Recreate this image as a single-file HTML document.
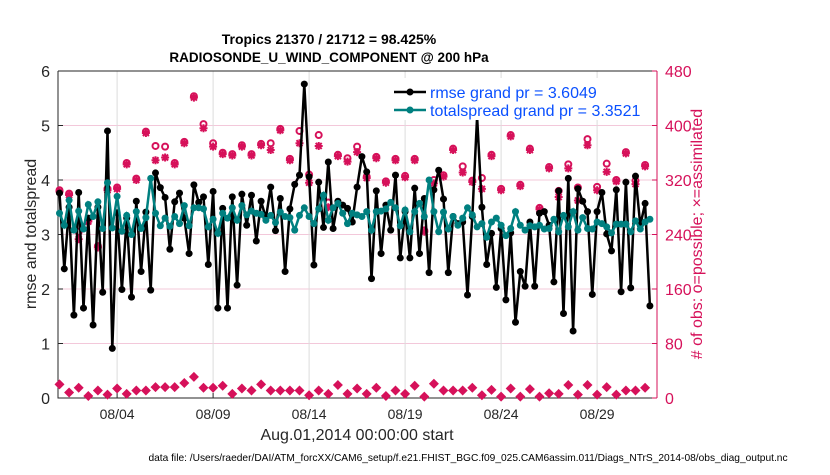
<!DOCTYPE html>
<html><head><meta charset="utf-8"><style>
body{margin:0;background:#fff;width:830px;height:470px;overflow:hidden;font-family:"Liberation Sans",sans-serif}
</style></head><body>
<svg id="c" width="830" height="470" xmlns="http://www.w3.org/2000/svg"></svg>
<script>
const rmse=[3.76,2.37,3.5,1.52,3.77,1.65,3.3,1.34,3.5,1.94,4.9,0.91,3.4,1.99,3.3,1.85,3.61,2.32,3.41,1.98,4.13,3.86,3.68,2.73,3.6,3.76,3.3,2.65,3.91,3.59,3.69,2.45,
3.79,1.65,3.48,1.65,3.69,2.07,3.74,3.17,3.72,2.88,3.61,3.3,3.87,3.07,3.66,2.32,3.47,3.92,4.09,5.76,4.06,2.44,3.96,3.13,4.33,3.11,3.61,3.54,3.48,3.23,3.87,
4.43,4.15,2.19,3.8,2.65,3.54,3.08,4.09,2.57,3.42,2.57,3.85,2.65,3.66,2.3,3.82,4.18,3.65,2.3,3.33,3.2,3.23,1.89,3.33,5.16,3.5,2.45,3.02,2.03,3.11,1.8,
3.03,1.39,2.32,2.05,3.23,2.05,3.39,3.42,3.17,2.13,3.8,1.55,4.03,1.23,3.84,3.61,3.42,1.9,3.42,3.77,3.01,2.7,3.82,1.95,3.96,2.02,4.07,3.17,3.57,1.69];
const spread=[3.39,3.17,3.63,3.08,3.43,3.1,3.55,3.33,3.6,3.11,3.95,3.12,3.7,3.06,3.35,3.0,3.42,3.11,3.31,4.03,3.39,3.16,3.3,3.15,3.33,3.2,3.53,3.16,3.49,3.49,3.47,3.14,
3.28,3.02,3.39,3.3,3.49,3.26,3.53,3.36,3.43,3.39,3.37,3.26,3.35,3.22,3.41,3.33,3.31,3.08,3.35,3.49,3.33,3.2,3.47,3.72,3.26,3.49,3.57,3.39,3.2,3.39,3.36,
3.33,3.42,3.08,3.42,3.43,3.47,3.59,3.49,3.16,3.45,3.05,3.42,3.57,3.33,4.0,3.42,3.05,3.41,3.1,3.33,3.17,3.3,3.49,3.36,3.14,3.2,2.95,3.23,3.3,3.17,2.98,
3.11,3.42,3.17,3.08,3.16,3.14,3.17,3.1,3.11,3.28,3.05,3.35,3.14,3.42,3.08,3.31,3.11,3.1,3.23,3.2,3.14,3.03,3.19,3.19,3.19,3.05,3.25,3.1,3.23,3.28];
const assim=[303,298,233,259,221,305,307,343,320,389,349,353,343,374,441,396,
369,358,356,369,356,371,364,393,349,374,316,370,280,355,347,361,
323,352,316,349,324,349,244,315,325,364,331,317,307,355,305,
384,311,364,277,337,295,337,290,371,305,332,318,359,314,340];
const possible=[305,300,244,261,223,307,309,345,322,391,370,369,345,376,443,402,
374,360,358,371,358,373,374,395,351,392,328,386,287,357,352,369,
325,354,318,351,326,351,246,320,327,366,340,319,323,357,307,
386,313,366,279,339,304,343,309,380,310,344,320,361,319,342];
const bottom=[20,8,15,3,11,5,14,6,11,11,16,16,16,22,31,15,15,18,6,14,11,20,11,11,11,11,4,11,6,19,6,14,
6,15,3,11,6,18,2,21,11,11,11,15,4,12,2,14,2,13,2,7,6,19,5,19,5,16,5,11,11,15];
const tickDays=[3,8,13,18,23,28];
const tickLabels=['08/04','08/09','08/14','08/19','08/24','08/29'];
const leftTicks=[0,1,2,3,4,5,6];
const rightTicks=[0,80,160,240,320,400,480];

const svg=document.getElementById('c');const NS='http://www.w3.org/2000/svg';
const L=58,R=657,T=71,B=398;
const xs=t=>59.5+t*19.2;
const yl=v=>B-(B-T)*v/6;
const yr=v=>B-(B-T)*v/480;
const MAG='#d6115a';
function mk(tag,a,p){const e=document.createElementNS(NS,tag);for(const k in a)e.setAttribute(k,a[k]);(p||svg).appendChild(e);return e;}
function tx(x,y,s,a){const e=mk('text',Object.assign({x:x,y:y},a));e.textContent=s;return e;}
leftTicks.forEach(v=>{if(v>0&&v<6){const g=mk('line',{x1:L,x2:R,y1:yl(v),y2:yl(v),stroke:'#f3c8da','stroke-width':1});

}});
tickDays.forEach(d=>{const g=mk('line',{x1:xs(d),x2:xs(d),y1:T,y2:B,stroke:'#dcdcdc','stroke-width':1});

});
const fr=mk('path',{d:`M${L},${T}H${R}M${L},${T}V${B}H${R}`,stroke:'#262626',fill:'none','stroke-width':1});


const ra=mk('line',{x1:R,x2:R,y1:T,y2:B,stroke:MAG,'stroke-width':1});


leftTicks.forEach(v=>{mk('line',{x1:L,x2:L+5,y1:yl(v),y2:yl(v),stroke:'#262626'});
const t=tx(L-8,yl(v)+6,String(v),{'text-anchor':'end','font-size':16,fill:'#262626'});

});
rightTicks.forEach(v=>{mk('line',{x1:R-5,x2:R,y1:yr(v),y2:yr(v),stroke:MAG});
const t=tx(R+8,yr(v)+6,String(v),{'font-size':16,fill:MAG});

});
tickDays.forEach((d,i)=>{mk('line',{x1:xs(d),x2:xs(d),y1:B,y2:B-5,stroke:'#262626'});
const t=tx(xs(d),B+21,tickLabels[i],{'text-anchor':'middle','font-size':14,fill:'#262626'});

});
bottom.forEach((v,k)=>{const x=xs(k*0.5),y=yr(v);const d=mk('path',{d:`M${x},${y-5}L${x+5},${y}L${x},${y+5}L${x-5},${y}Z`,fill:MAG});

});
possible.forEach((v,k)=>{const c=mk('circle',{cx:xs(k*0.5),cy:yr(v),r:3,fill:'none',stroke:MAG,'stroke-width':2});

});
assim.forEach((v,k)=>{const x=xs(k*0.5),y=yr(v);const s=mk('path',{d:`M${x-4},${y}H${x+4}M${x},${y-4}V${y+4}M${x-3},${y-3}L${x+3},${y+3}M${x-3},${y+3}L${x+3},${y-3}`,stroke:MAG,'stroke-width':2});

});
function series(arr,col,name){const p=mk('polyline',{points:arr.map((v,i)=>xs(i*0.25)+','+yl(v)).join(' '),fill:'none',stroke:col,'stroke-width':2.5});


arr.forEach((v,i)=>{const c=mk('circle',{cx:xs(i*0.25),cy:yl(v),r:3.5,fill:col});

});}
series(rmse,'#000','rmse');
series(spread,'#008080','totalspread');
const lg=mk('rect',{x:390,y:78,width:262,height:42,fill:'#fff'});


[['#000','rmse grand pr = 3.6049',92],['#008080','totalspread grand pr = 3.3521',110]].forEach(e=>{
mk('line',{x1:394,x2:426,y1:e[2],y2:e[2],stroke:e[0],'stroke-width':2.5});
mk('circle',{cx:410,cy:e[2],r:3.5,fill:e[0]});
const t=tx(430,e[2]+6,e[1],{'font-size':16,fill:'#0a50ff'});

});
let t=tx(329,44,'Tropics 21370 / 21712 = 98.425%',{'text-anchor':'middle','font-size':14,'font-weight':'bold',fill:'#000'});


t=tx(329,62,'RADIOSONDE_U_WIND_COMPONENT @ 200 hPa',{'text-anchor':'middle','font-size':13.5,'font-weight':'bold',fill:'#000'});


t=tx(357,440,'Aug.01,2014 00:00:00 start',{'text-anchor':'middle','font-size':16,fill:'#262626'});


t=tx(36,234,'rmse and totalspread',{'text-anchor':'middle','font-size':16,fill:'#262626',transform:'rotate(-90 36 234)'});


t=tx(702,234,'# of obs: o=possible; \u00d7=assimilated',{'text-anchor':'middle','font-size':16,fill:MAG,transform:'rotate(-90 702 234)'});


t=tx(468,461,'data file: /Users/raeder/DAI/ATM_forcXX/CAM6_setup/f.e21.FHIST_BGC.f09_025.CAM6assim.011/Diags_NTrS_2014-08/obs_diag_output.nc',{'text-anchor':'middle','font-size':10.2,fill:'#000'});


</script>
</body></html>
